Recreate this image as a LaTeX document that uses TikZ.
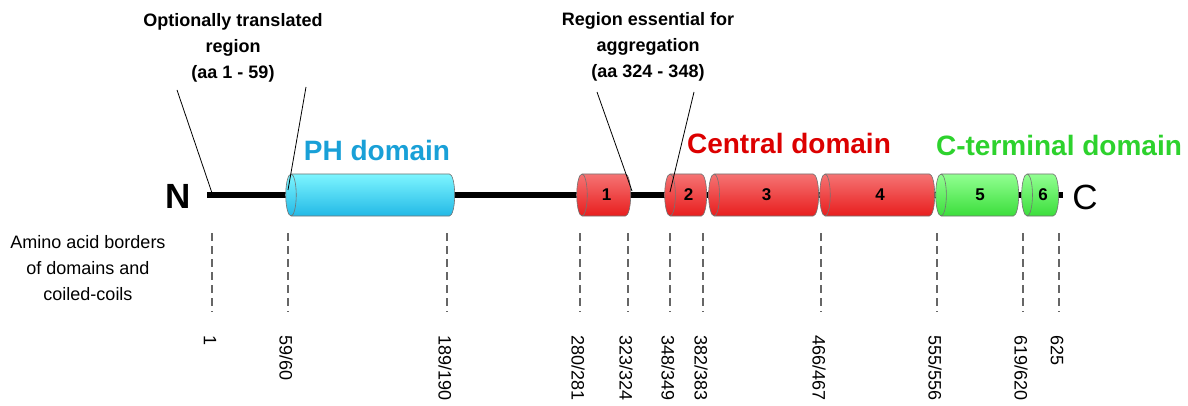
\documentclass[tikz,border=0pt]{standalone}
\usepackage{fontspec}
\setmainfont{Liberation Sans}
\usetikzlibrary{shapes.geometric}

\definecolor{phtext}{RGB}{25,160,215}
\definecolor{centraltext}{RGB}{220,0,0}
\definecolor{ctermtext}{RGB}{45,210,45}
\definecolor{bluelight}{RGB}{125,245,255}
\definecolor{bluedark}{RGB}{20,165,215}
\definecolor{bluemid}{RGB}{35,185,230}
\definecolor{redlight}{RGB}{245,115,115}
\definecolor{reddark}{RGB}{210,0,0}
\definecolor{redmid}{RGB}{232,30,30}
\definecolor{greenlight}{RGB}{145,255,145}
\definecolor{greendark}{RGB}{30,200,30}
\definecolor{greenmid}{RGB}{60,222,60}

\tikzset{
  coil/.style={draw=black!55, line width=0.6pt, shape=cylinder,
    shape border rotate=180, aspect=0.9, minimum width=42pt,
    inner sep=0pt, font=\bfseries\fontsize{17}{17}\selectfont},
  bluecoil/.style={coil, top color=bluelight, middle color=bluedark, bottom color=bluemid},
  redcoil/.style={coil, top color=redlight, middle color=reddark, bottom color=redmid},
  greencoil/.style={coil, top color=greenlight, middle color=greendark, bottom color=greenmid},
  title/.style={font=\bfseries\fontsize{28}{28}\selectfont, inner sep=0pt},
  callout/.style={font=\bfseries\fontsize{18}{26}\selectfont, align=center, inner sep=0pt},
  border/.style={draw=black!60, line width=1.2pt, dash pattern=on 8pt off 5pt},
  numlabel/.style={rotate=-90, anchor=west, inner sep=0pt, font=\fontsize{18}{18}\selectfont},
}

\begin{document}
\begin{tikzpicture}[x=1pt,y=-1pt]
    \useasboundingbox (0,0) rectangle (1188,406);

    % backbone
    \coordinate(nend) at (207,195);
    \coordinate(cend) at (1063,195);
    \draw[line width=6pt] (nend) -- (cend);

    \node(N)[font=\bfseries\fontsize{35}{35}\selectfont] at (178,196) {N};
    \node(C)[font=\fontsize{35}{35}\selectfont] at (1085,197) {C};

    % domains and coiled-coils
    \node(PH)[bluecoil, minimum height=169pt] at (373,195) {\vphantom{1}};
    \node(c1)[redcoil, minimum height=54pt] at (606.5,195) {1};
    \node(c2)[redcoil, minimum height=42pt] at (688.5,195) {2};
    \node(c3)[redcoil, minimum height=110pt] at (766.5,195) {3};
    \node(c4)[redcoil, minimum height=115pt] at (880,195) {4};
    \node(c5)[greencoil, minimum height=83pt] at (980,195) {5};
    \node(c6)[greencoil, minimum height=37pt] at (1043,195) {6};

    \node(phname)[title, text=phtext] at (377,150) {PH domain};
    \node(centralname)[title, text=centraltext] at (789,143) {Central domain};
    \node(ctermname)[title, text=ctermtext] at (1059,145) {C-terminal domain};

    % callouts
    \node(opt)[callout] at (233,48) {Optionally translated\\region\\(aa 1 - 59)};
    \coordinate(opta) at (177,90);
    \coordinate(optb) at (306,87);
    \coordinate(optc) at (212,193);
    \coordinate(optd) at (288,190);
    \draw[line width=0.8pt] (opta) -- (optc);
    \draw[line width=0.8pt] (optb) -- (optd);

    \node(agg)[callout] at (648,47) {Region essential for\\aggregation\\(aa 324 - 348)};
    \coordinate(agga) at (597,92);
    \coordinate(aggb) at (694,92);
    \coordinate(aggc) at (632,191);
    \coordinate(aggd) at (670,192);
    \draw[line width=0.8pt] (agga) -- (aggc);
    \draw[line width=0.8pt] (aggb) -- (aggd);

    % amino acid borders
    \node(aa)[font=\fontsize{18}{26}\selectfont, align=center] at (88,268)
        {Amino acid borders\\of domains and\\coiled-coils};

    \foreach \x/\t [count=\i] in {212/1, 288/{59/60}, 447/{189/190}, 580/{280/281},
        628/{323/324}, 670/{348/349}, 703/{382/383}, 821/{466/467},
        937/{555/556}, 1023/{619/620}, 1059/625}{
        \coordinate(top\i) at (\x,233);
        \coordinate(bot\i) at (\x,312);
        \draw[border] (top\i) -- (bot\i);
        \node(num\i)[numlabel] at (\x-2,335) {\t};
    }
\end{tikzpicture}
\end{document}
